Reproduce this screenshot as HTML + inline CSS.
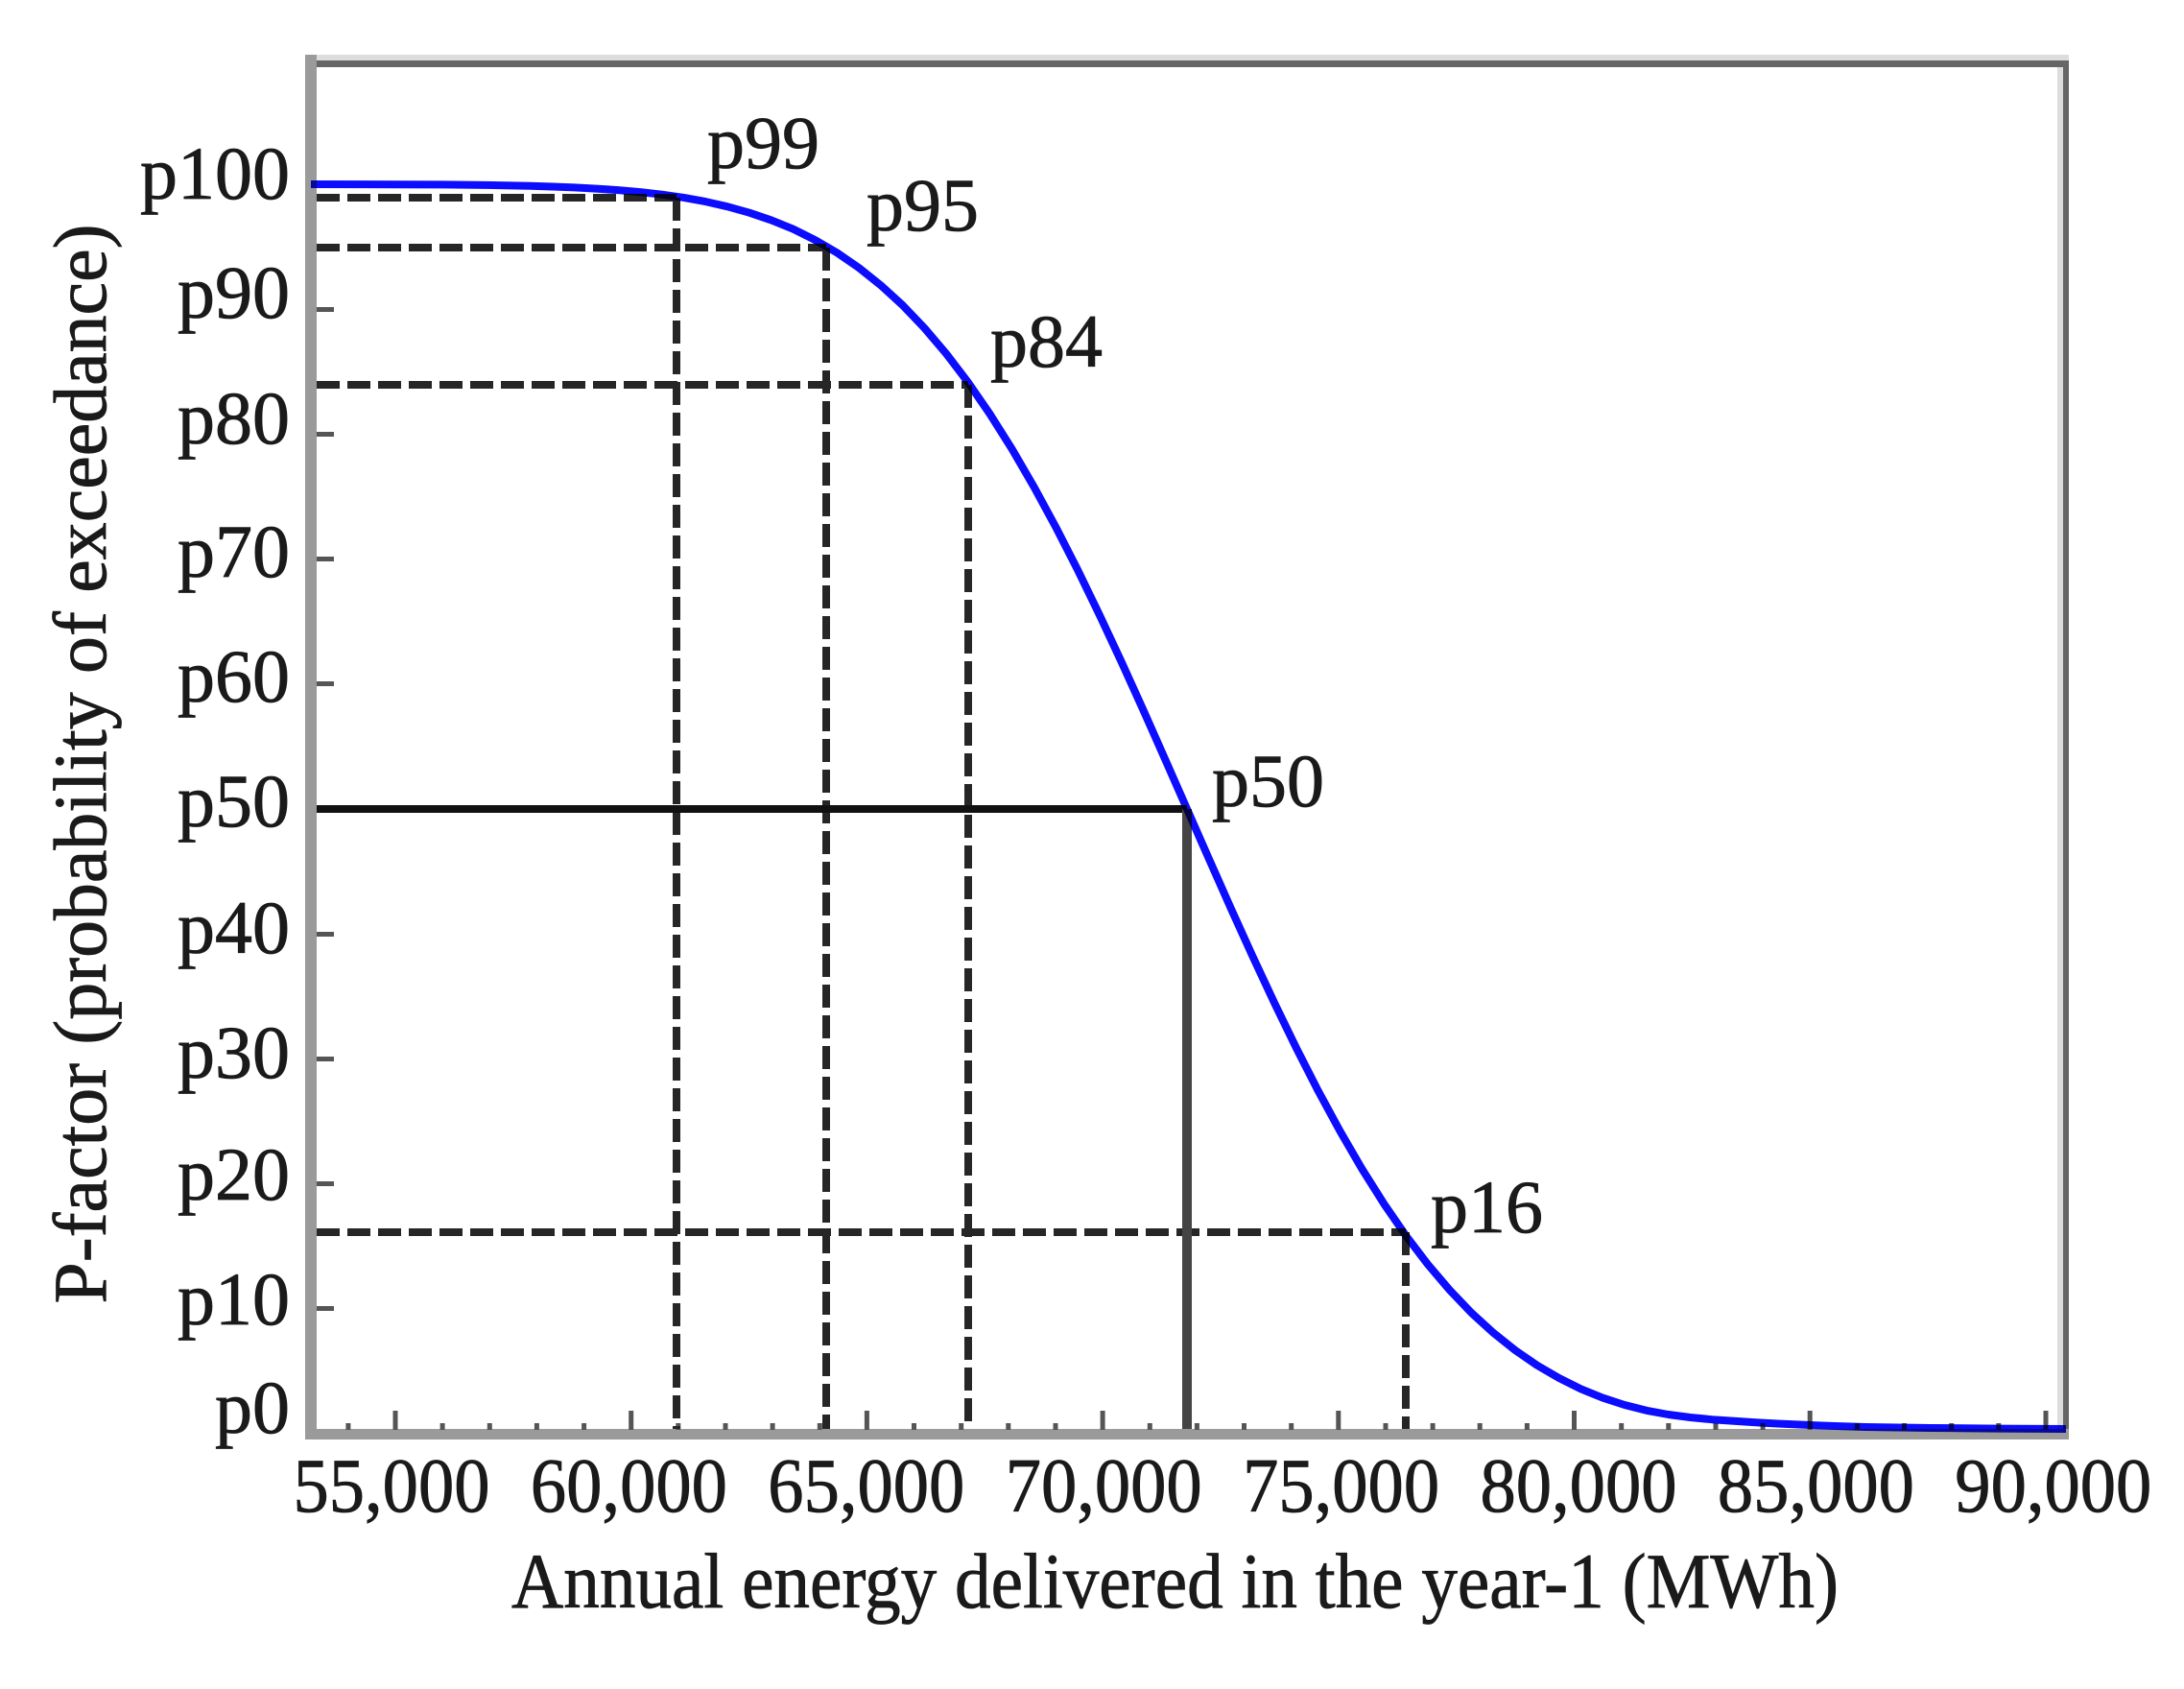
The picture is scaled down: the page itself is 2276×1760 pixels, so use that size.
<!DOCTYPE html>
<html>
<head>
<meta charset="utf-8">
<style>
  html, body { margin: 0; padding: 0; background: #ffffff; }
  svg { display: block; }
  text { font-family: "Liberation Serif", "Times New Roman", serif; fill: #1a1a1a; stroke: #1a1a1a; stroke-width: 0.8; }
</style>
</head>
<body>
<svg width="2276" height="1760" viewBox="0 0 2276 1760" xmlns="http://www.w3.org/2000/svg">
  <rect x="0" y="0" width="2276" height="1760" fill="#ffffff"/>

  <!-- frame -->
  <rect x="318" y="57" width="1838" height="6" fill="#dddddd"/>
  <rect x="318" y="63" width="1838" height="7" fill="#666666"/>
  <rect x="2144" y="70" width="6" height="1419" fill="#dddddd"/>
  <rect x="2150" y="63" width="6" height="1437" fill="#666666"/>
  <rect x="318" y="57" width="12" height="1443" fill="#9a9a9a"/>
  <rect x="318" y="1489" width="1838" height="11" fill="#9a9a9a"/>

  <!-- y ticks -->
  <g fill="#555555">
    <rect x="330" y="320" width="18" height="5"/>
    <rect x="330" y="450" width="18" height="5"/>
    <rect x="330" y="580" width="18" height="5"/>
    <rect x="330" y="710" width="18" height="5"/>
    <rect x="330" y="971" width="18" height="5"/>
    <rect x="330" y="1101" width="18" height="5"/>
    <rect x="330" y="1231" width="18" height="5"/>
    <rect x="330" y="1361" width="18" height="5"/>
  </g>

  <!-- x ticks -->
  <g stroke="#555555" stroke-width="5">
    <line x1="362.9" y1="1483" x2="362.9" y2="1490"/>
    <line x1="412" y1="1470" x2="412" y2="1490"/>
    <line x1="461.1" y1="1483" x2="461.1" y2="1490"/>
    <line x1="510.3" y1="1483" x2="510.3" y2="1490"/>
    <line x1="559.4" y1="1483" x2="559.4" y2="1490"/>
    <line x1="608.6" y1="1483" x2="608.6" y2="1490"/>
    <line x1="657.7" y1="1470" x2="657.7" y2="1490"/>
    <line x1="706.8" y1="1483" x2="706.8" y2="1490"/>
    <line x1="756" y1="1483" x2="756" y2="1490"/>
    <line x1="805.1" y1="1483" x2="805.1" y2="1490"/>
    <line x1="854.3" y1="1483" x2="854.3" y2="1490"/>
    <line x1="903.4" y1="1470" x2="903.4" y2="1490"/>
    <line x1="952.5" y1="1483" x2="952.5" y2="1490"/>
    <line x1="1001.7" y1="1483" x2="1001.7" y2="1490"/>
    <line x1="1050.8" y1="1483" x2="1050.8" y2="1490"/>
    <line x1="1100" y1="1483" x2="1100" y2="1490"/>
    <line x1="1149.1" y1="1470" x2="1149.1" y2="1490"/>
    <line x1="1198.3" y1="1483" x2="1198.3" y2="1490"/>
    <line x1="1247.4" y1="1483" x2="1247.4" y2="1490"/>
    <line x1="1296.5" y1="1483" x2="1296.5" y2="1490"/>
    <line x1="1345.7" y1="1483" x2="1345.7" y2="1490"/>
    <line x1="1394.8" y1="1470" x2="1394.8" y2="1490"/>
    <line x1="1444" y1="1483" x2="1444" y2="1490"/>
    <line x1="1493.1" y1="1483" x2="1493.1" y2="1490"/>
    <line x1="1542.2" y1="1483" x2="1542.2" y2="1490"/>
    <line x1="1591.4" y1="1483" x2="1591.4" y2="1490"/>
    <line x1="1640.5" y1="1470" x2="1640.5" y2="1490"/>
    <line x1="1689.7" y1="1483" x2="1689.7" y2="1490"/>
    <line x1="1738.8" y1="1483" x2="1738.8" y2="1490"/>
    <line x1="1788" y1="1483" x2="1788" y2="1490"/>
    <line x1="1837.1" y1="1483" x2="1837.1" y2="1490"/>
    <line x1="1886.2" y1="1470" x2="1886.2" y2="1490"/>
    <line x1="1935.4" y1="1483" x2="1935.4" y2="1490"/>
    <line x1="1984.5" y1="1483" x2="1984.5" y2="1490"/>
    <line x1="2033.7" y1="1483" x2="2033.7" y2="1490"/>
    <line x1="2082.8" y1="1483" x2="2082.8" y2="1490"/>
    <line x1="2132" y1="1470" x2="2132" y2="1490"/>
  </g>

  <!-- dashed reference lines -->
  <g stroke="#262626" stroke-width="8" stroke-dasharray="24 8" fill="none">
    <line x1="330" y1="206" x2="705" y2="206"/>
    <line x1="330" y1="258" x2="861" y2="258"/>
    <line x1="330" y1="401" x2="1009" y2="401"/>
    <line x1="330" y1="1284" x2="1465" y2="1284"/>
    <line x1="705" y1="206" x2="705" y2="1489"/>
    <line x1="861" y1="258" x2="861" y2="1489"/>
    <line x1="1009" y1="401" x2="1009" y2="1489"/>
    <line x1="1465" y1="1284" x2="1465" y2="1489"/>
  </g>

  <!-- p50 solid lines -->
  <line x1="330" y1="843" x2="1237" y2="843" stroke="#111111" stroke-width="8"/>
  <line x1="1237" y1="843" x2="1237" y2="1489" stroke="#444444" stroke-width="10"/>

  <!-- curve -->
  <polyline fill="none" stroke="#0c0cff" stroke-width="8" stroke-linejoin="round" style="mix-blend-mode:multiply"
    points="324,192 416.2,192.2 461.8,192.4 507.4,192.9 553,193.8 575.8,194.5 598.6,195.4 621.4,196.6 644.2,198.1 667,200.1 689.8,202.7 712.6,205.9 735.4,210.1 758.2,215.3 781,221.7 803.8,229.4 826.6,238.7 849.4,250.1 872.2,263.3 895,279 917.8,297.2 940.6,318 963.4,341.9 986.2,368.7 1009,398.6 1031.8,431.7 1054.6,467.9 1077.4,507.1 1100.2,549.1 1123,593.7 1145.8,640.7 1168.6,689.5 1191.4,739.8 1214.2,791.2 1237,843 1259.8,894.8 1282.6,946.2 1305.4,996.5 1328.2,1045.3 1351,1092.3 1373.8,1136.9 1396.6,1178.9 1419.4,1218.1 1442.2,1254.3 1465,1287.4 1487.8,1317.3 1510.6,1344.1 1533.4,1368 1556.2,1388.8 1579,1407 1601.8,1422.7 1624.6,1435.9 1647.4,1447.3 1670.2,1456.6 1693,1464 1715.8,1469.8 1738.6,1474 1761.4,1477 1784.2,1479.2 1807,1480.8 1829.8,1482.3 1852.6,1483.5 1898.2,1485.5 1943.8,1487 2012.2,1488 2080.6,1488.6 2153,1489"/>

  <!-- y tick labels -->
  <g font-size="78" text-anchor="end">
    <text x="302" y="207">p100</text>
    <text x="302" y="331">p90</text>
    <text x="302" y="462">p80</text>
    <text x="302" y="601">p70</text>
    <text x="302" y="731">p60</text>
    <text x="302" y="861">p50</text>
    <text x="302" y="993">p40</text>
    <text x="302" y="1123">p30</text>
    <text x="302" y="1250">p20</text>
    <text x="302" y="1380">p10</text>
    <text x="302" y="1493">p0</text>
  </g>

  <!-- x tick labels -->
  <g font-size="80" text-anchor="middle">
    <text x="408" y="1575" textLength="205" lengthAdjust="spacingAndGlyphs">55,000</text>
    <text x="655.4" y="1575" textLength="205" lengthAdjust="spacingAndGlyphs">60,000</text>
    <text x="902.8" y="1575" textLength="205" lengthAdjust="spacingAndGlyphs">65,000</text>
    <text x="1150.2" y="1575" textLength="205" lengthAdjust="spacingAndGlyphs">70,000</text>
    <text x="1397.6" y="1575" textLength="205" lengthAdjust="spacingAndGlyphs">75,000</text>
    <text x="1645" y="1575" textLength="205" lengthAdjust="spacingAndGlyphs">80,000</text>
    <text x="1892.4" y="1575" textLength="205" lengthAdjust="spacingAndGlyphs">85,000</text>
    <text x="2139.8" y="1575" textLength="205" lengthAdjust="spacingAndGlyphs">90,000</text>
  </g>

  <!-- point labels -->
  <g font-size="78">
    <text x="737" y="175">p99</text>
    <text x="903" y="240">p95</text>
    <text x="1032" y="382">p84</text>
    <text x="1263" y="840">p50</text>
    <text x="1491" y="1284">p16</text>
  </g>

  <!-- axis titles -->
  <text x="1224.5" y="1675" font-size="82" text-anchor="middle" textLength="1383" lengthAdjust="spacingAndGlyphs">Annual energy delivered in the year-1 (MWh)</text>
  <text transform="translate(110,796) rotate(-90)" x="0" y="0" font-size="78" text-anchor="middle" textLength="1125" lengthAdjust="spacingAndGlyphs">P-factor (probability of exceedance)</text>
</svg>
</body>
</html>
